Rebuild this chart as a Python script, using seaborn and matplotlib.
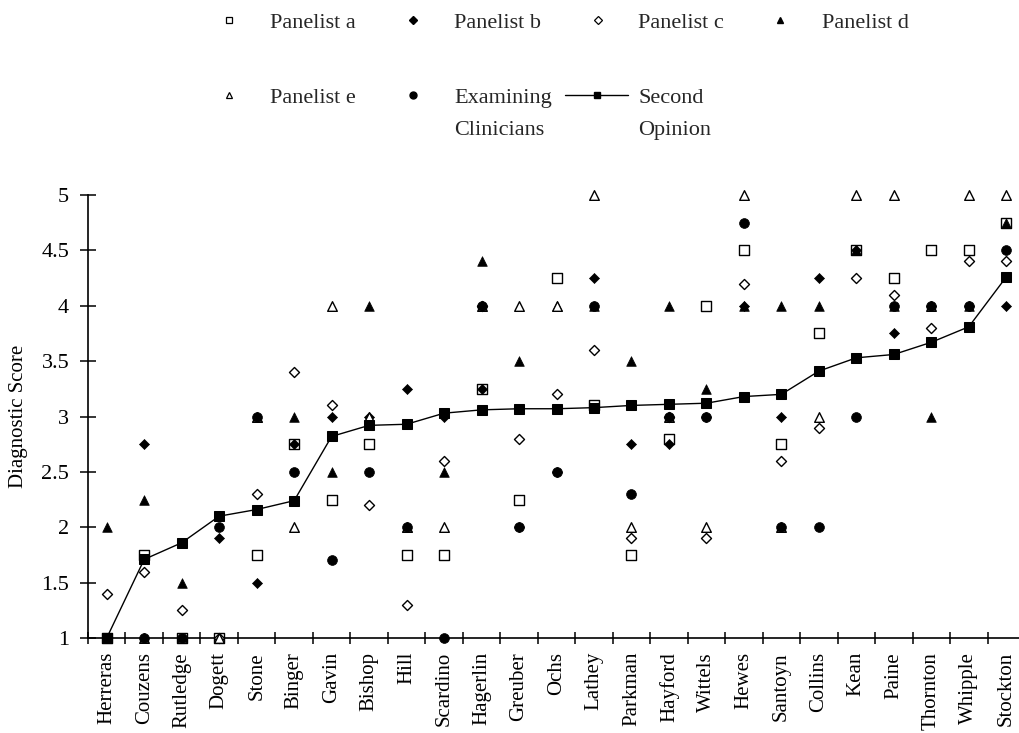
import matplotlib
matplotlib.use("Agg")
import matplotlib.pyplot as plt
import seaborn as sns
import pandas as pd
from matplotlib.lines import Line2D
from matplotlib.ticker import FixedLocator

# ---------------- data ----------------
names = ["Herreras", "Couzens", "Rutledge", "Dogett", "Stone", "Binger", "Gavin",
         "Bishop", "Hill", "Scardino", "Hagerlin", "Greuber", "Ochs", "Lathey",
         "Parkman", "Hayford", "Wittels", "Hewes", "Santoyn", "Collins", "Kean",
         "Paine", "Thornton", "Whipple", "Stockton"]

panelist_a = [1, 1.75, 1, 1, 1.75, 2.75, 2.25, 2.75, 1.75, 1.75, 3.25, 2.25, 4.25,
              3.1, 1.75, 2.8, 4.0, 4.5, 2.75, 3.75, 4.5, 4.25, 4.5, 4.5, 4.75]
panelist_b = [1, 2.75, 1, 1.9, 1.5, 2.75, 3.0, 3.0, 3.25, 3.0, 3.25, 2.0, 2.5,
              4.25, 2.75, 2.75, 3.0, 4.0, 3.0, 4.25, 4.5, 3.75, 4.0, 4.0, 4.0]
panelist_c = [1.4, 1.6, 1.25, 1, 2.3, 3.4, 3.1, 2.2, 1.3, 2.6, 4.0, 2.8, 3.2,
              3.6, 1.9, 3.0, 1.9, 4.2, 2.6, 2.9, 4.25, 4.1, 3.8, 4.4, 4.4]
panelist_d = [2.0, 2.25, 1.5, 1, 3.0, 3.0, 2.5, 4.0, 2.0, 2.5, 4.4, 3.5, 4.0,
              4.0, 3.5, 4.0, 3.25, 4.0, 4.0, 4.0, 4.5, 4.0, 3.0, 4.0, 4.75]
panelist_e = [1, 1, 1, 1, 3.0, 2.0, 4.0, 3.0, 2.0, 2.0, 4.0, 4.0, 4.0,
              5.0, 2.0, 3.0, 2.0, 5.0, 2.0, 3.0, 5.0, 5.0, 4.0, 5.0, 5.0]
clinicians = [1, 1, 1, 2.0, 3.0, 2.5, 1.7, 2.5, 2.0, 1.0, 4.0, 2.0, 2.5,
              4.0, 2.3, 3.0, 3.0, 4.75, 2.0, 2.0, 3.0, 4.0, 4.0, 4.0, 4.5]
second_opinion = [1.0, 1.71, 1.86, 2.1, 2.16, 2.24, 2.82, 2.92, 2.93, 3.03, 3.06,
                  3.07, 3.07, 3.08, 3.1, 3.11, 3.12, 3.18, 3.2, 3.41, 3.53, 3.56,
                  3.67, 3.81, 4.26]

y_ticks = [1, 1.5, 2, 2.5, 3, 3.5, 4, 4.5, 5]
y_tick_labels = ["1", "1.5", "2", "2.5", "3", "3.5", "4", "4.5", "5"]

# ---------------- figure ----------------
sns.set_theme(style="white")
plt.rcParams['font.family'] = ['Liberation Serif', 'DejaVu Serif']

W, H = 1019, 733
fig = plt.figure(figsize=(W / 100, H / 100), dpi=100)
ax = fig.add_axes([88 / W, 1 - 638 / H, (1025 - 88) / W, (638 - 195) / H])

pos = list(range(len(names)))
df = pd.DataFrame({"pos": pos, "a": panelist_a, "b": panelist_b, "c": panelist_c,
                   "d": panelist_d, "e": panelist_e, "clin": clinicians,
                   "second": second_opinion})

common = dict(ax=ax, clip_on=False, zorder=4, legend=False)
sns.scatterplot(data=df, x="pos", y="a", marker="s", s=48, facecolor="white",
                edgecolor="black", linewidth=1.0, **common)
sns.scatterplot(data=df, x="pos", y="b", marker="D", s=26, color="black",
                edgecolor="black", linewidth=0.5, **common)
sns.scatterplot(data=df, x="pos", y="c", marker="D", s=26, facecolor="white",
                edgecolor="black", linewidth=1.0, **common)
sns.scatterplot(data=df, x="pos", y="d", marker="^", s=48, color="black",
                edgecolor="black", linewidth=0.5, **common)
sns.scatterplot(data=df, x="pos", y="e", marker="^", s=48, facecolor="white",
                edgecolor="black", linewidth=1.0, **common)
sns.scatterplot(data=df, x="pos", y="clin", marker="o", s=50, color="black",
                edgecolor="black", linewidth=0.5, **common)
sns.lineplot(data=df, x="pos", y="second", color="black", linewidth=1.0,
             marker="s", markersize=7.5, markeredgecolor="black",
             ax=ax, clip_on=False, zorder=5, legend=False)

ax.set_xlim(-0.5, len(names) - 0.5)
ax.set_ylim(1, 5)

# y axis
ax.set_yticks(y_ticks)
ax.set_yticklabels(y_tick_labels)
ax.tick_params(axis="y", which="major", direction="inout", length=11, width=1.1,
               pad=8, labelsize=16, colors="black", left=True)

# x axis: labels at categories, tick marks at boundaries
ax.set_xticks(pos)
ax.set_xticklabels(names, rotation=90, va="top", ha="center")
ax.tick_params(axis="x", which="major", length=0, pad=10, labelsize=15,
               labelcolor="black")
ax.xaxis.set_minor_locator(FixedLocator([p + 0.5 for p in range(-1, len(names))]))
ax.tick_params(axis="x", which="minor", direction="inout", length=9, width=1.1,
               color="black", bottom=True)

ax.set_xlabel("")
ax.set_ylabel("Diagnostic Score", fontsize=15, color="black")
ax.yaxis.set_label_coords((28 - 88) / 937, 0.5)

for side in ["top", "right"]:
    ax.spines[side].set_visible(False)
for side in ["left", "bottom"]:
    ax.spines[side].set_color("black")
    ax.spines[side].set_linewidth(1.2)
ax.set_facecolor("white")
fig.patch.set_facecolor("white")

# ---------------- legend (one entry per box to mimic layout) ----------------
fs = 16
fs_px = fs * 100 / 72.0


def entry(handle, label, marker_cx, text_x, yc, hl=1.0):
    x0 = marker_cx - hl * fs_px / 2
    pad = (text_x - x0 - hl * fs_px) / fs_px
    fig.legend(handles=[handle], labels=[label], loc="center left",
               bbox_to_anchor=(x0 / W, 1 - yc / H), frameon=False,
               borderpad=0, borderaxespad=0, handlelength=hl,
               handletextpad=pad, fontsize=fs, handleheight=0.9)


h_a = Line2D([], [], linestyle="None", marker="s", ms=5, mfc="white", mec="black", mew=0.9)
h_b = Line2D([], [], linestyle="None", marker="D", ms=4.5, mfc="black", mec="black")
h_c = Line2D([], [], linestyle="None", marker="D", ms=4.5, mfc="white", mec="black", mew=0.9)
h_d = Line2D([], [], linestyle="None", marker="^", ms=5, mfc="black", mec="black")
h_e = Line2D([], [], linestyle="None", marker="^", ms=5, mfc="white", mec="black", mew=0.9)
h_clin = Line2D([], [], linestyle="None", marker="o", ms=5, mfc="black", mec="black")
h_sec = Line2D([], [], color="black", lw=1.0, marker="s", ms=5, mfc="black", mec="black")

row1, row2 = 22, 97
entry(h_a, "Panelist a", 229, 270, row1)
entry(h_b, "Panelist b", 413, 454, row1)
entry(h_c, "Panelist c", 598, 638, row1)
entry(h_d, "Panelist d", 780, 822, row1)
entry(h_e, "Panelist e", 229, 270, row2)
entry(h_clin, "Examining", 413, 454, row2)
entry(h_sec, "Second", 596.5, 638, row2, hl=63 / fs_px)
fig.text(454 / W, 1 - 135 / H, "Clinicians", fontsize=fs, va="baseline", ha="left")
fig.text(638 / W, 1 - 135 / H, "Opinion", fontsize=fs, va="baseline", ha="left")

fig.savefig("out.png", dpi=100, facecolor="white")
